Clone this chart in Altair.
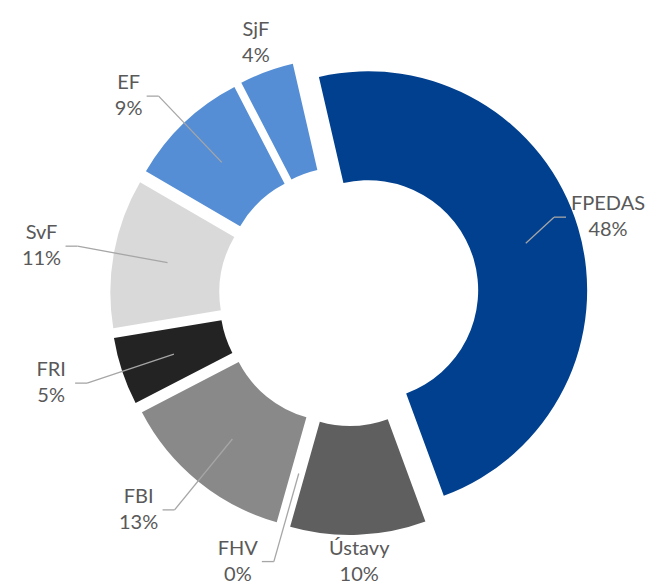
import math
import altair as alt
import pandas as pd

# ---- data ----
categories = ["FPEDAS", "Ústavy", "FHV", "FBI", "FRI", "SvF", "EF", "SjF"]
shares = [48, 10, 0, 13, 5, 11, 9, 4]
colors = ["#00408F", "#5F5F5F", "#7F7F7F", "#898989", "#232323", "#D9D9D9", "#558ED5", "#558ED5"]

# ---- layout / style ----
W, H = 638, 577
CX, CY = 341, 288            # donut centre inside the view
R_OUT, R_IN = 219, 110
EXPLODE = 20                 # explosion distance of every slice
FIRST_ANGLE_DEG = -13        # angle of first slice (clockwise from 12 o'clock)
LABEL_R = 276                # radius of leader-line elbows
SEG = 12                     # horizontal leader segment
GAP = 6
FONT = "Lato"
FONT_SIZE = 20
LINE_H = 26
CHAR_W = 0.6 * FONT_SIZE

A0 = 2 * math.pi + math.radians(FIRST_ANGLE_DEG)
RMID = (R_IN + R_OUT) / 2

df = pd.DataFrame({"name": categories, "share": shares, "order": list(range(len(categories)))})

xs = alt.Scale(domain=[-CX, W - CX], range=[0, W], nice=False, zero=False)
ys = alt.Scale(domain=[-CY, H - CY], range=[0, H], nice=False, zero=False)

base = (
    alt.Chart(df)
    .transform_joinaggregate(total="sum(share)")
    .transform_window(cum="sum(share)", sort=[alt.SortField("order")], frame=[None, 0])
    .transform_calculate(
        a0=f"{A0} + 2*PI*(datum.cum - datum.share)/datum.total",
        a1=f"{A0} + 2*PI*datum.cum/datum.total",
        pct="datum.share + '%'",
    )
    .transform_calculate(
        mid="(datum.a0 + datum.a1)/2",
        label="datum.name + '\\n' + datum.pct",
        wlab=f"max(length(datum.name), length(datum.pct)) * {CHAR_W}",
    )
    .transform_calculate(
        s="sin(datum.mid)",
        c="cos(datum.mid)",
        deg="(datum.mid*180/PI) % 360",
    )
    .transform_calculate(
        cx=f"{EXPLODE}*datum.s",
        cy=f"-{EXPLODE}*datum.c",
        side="datum.s >= 0 ? 1 : -1",
        lead="!(datum.deg > 330 || datum.deg < 30 || (datum.deg > 165 && datum.deg < 190))",
        # radius at which a label box just clears the exploded ring
        tr=f"{R_OUT + EXPLODE} + {LINE_H}*abs(cos(datum.mid)) + datum.wlab/2*abs(sin(datum.mid))",
    )
    .transform_calculate(
        lx0=f"datum.cx + {RMID}*datum.s",
        ly0=f"datum.cy - {RMID}*datum.c",
        bx=(
            f"datum.side > 0 ? min({LABEL_R}*datum.s, {W - CX} - {SEG + GAP + 2} - datum.wlab)"
            f" : max({LABEL_R}*datum.s, {-CX} + {SEG + GAP + 2} + datum.wlab)"
        ),
        by=f"-{LABEL_R}*datum.c",
    )
    .transform_calculate(
        hx=f"datum.bx + datum.side*{SEG}",
    )
    .transform_calculate(
        tx=f"datum.lead ? datum.hx + datum.side*({GAP} + datum.wlab/2) : datum.tr*datum.s",
        ty="datum.lead ? datum.by : -datum.tr*datum.c",
    )
)

arcs = base.mark_arc(innerRadius=R_IN, outerRadius=R_OUT).encode(
    x=alt.X("cx:Q", scale=xs, axis=None),
    y=alt.Y("cy:Q", scale=ys, axis=None),
    theta=alt.Theta("a0:Q", scale=None, stack=None),
    theta2="a1:Q",
    color=alt.Color("name:N", scale=alt.Scale(domain=categories, range=colors), legend=None),
)

lead1 = base.transform_filter("datum.lead").mark_rule(color="#A6A6A6", strokeWidth=1.3).encode(
    x=alt.X("lx0:Q", scale=xs, axis=None),
    y=alt.Y("ly0:Q", scale=ys, axis=None),
    x2="bx:Q",
    y2="by:Q",
)

lead2 = base.transform_filter("datum.lead").mark_rule(color="#A6A6A6", strokeWidth=1.3).encode(
    x=alt.X("bx:Q", scale=xs, axis=None),
    y=alt.Y("by:Q", scale=ys, axis=None),
    x2="hx:Q",
    y2="by:Q",
)

labels = base.mark_text(
    font=FONT, fontSize=FONT_SIZE, color="#595959", align="center", baseline="middle",
    lineBreak="\n", lineHeight=LINE_H, dy=-LINE_H / 2,
).encode(
    x=alt.X("tx:Q", scale=xs, axis=None),
    y=alt.Y("ty:Q", scale=ys, axis=None),
    text="label:N",
)

chart = (
    alt.layer(arcs, lead1, lead2, labels)
    .properties(width=W, height=H, padding=0, autosize=alt.AutoSizeParams(type="none"))
    .configure_view(stroke=None)
)

chart.save("out.html", embed_options={"renderer": "svg", "actions": False})
